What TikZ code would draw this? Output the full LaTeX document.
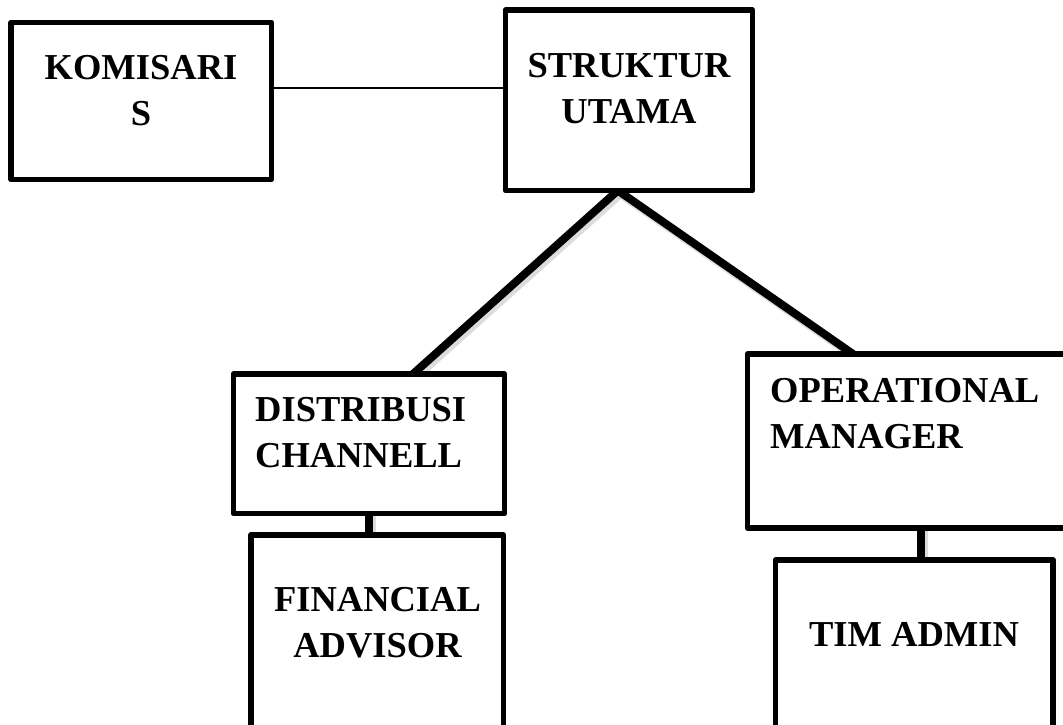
\documentclass[tikz,border=0pt]{standalone}
\usepackage{fontspec}
\setmainfont{Liberation Serif}
\usetikzlibrary{calc}
\pgfdeclarelayer{bg}
\pgfsetlayers{bg,main}
\begin{document}
\begin{tikzpicture}[x=1pt,y=-1pt,
  box/.style={draw, line width=5.5pt, line join=round, inner sep=0pt, outer sep=0pt, fill=white, anchor=north west},
  lbl/.style={inner sep=0pt, font=\fontsize{36.5}{46}\selectfont\bfseries},
  thinlink/.style={line width=2pt},
  thicklink/.style={line width=8pt, line cap=butt},
  vlink/.style={line width=7.5pt},
  shade/.style={line width=9pt, draw=black!30, opacity=0.45}
]
\clip (0,0) rectangle (1063,725);

% boxes
\node[box, minimum width=260.5pt, minimum height=157pt] (kom) at (11,22.5) {};
\node[box, minimum width=247pt, minimum height=180.5pt] (str) at (505.5,10) {};
\node[box, minimum width=271pt, minimum height=139.5pt] (dis) at (233.5,374) {};
\node[box, minimum width=252.5pt, minimum height=250pt] (fin) at (251,535) {};
\node[box, minimum width=340pt, minimum height=174pt] (ope) at (747.5,354) {};
\node[box, minimum width=277.5pt, minimum height=250pt] (tim) at (775.5,560) {};

% connectors
\coordinate (apex) at ($(str.south west)!0.455!(str.south east)$);
\coordinate (disin) at ([xshift=179.5pt]dis.north west);
\coordinate (opein) at ([xshift=105.5pt]ope.north west);
\coordinate (disout) at ([xshift=135.5pt]dis.south west);
\coordinate (opeout) at ([xshift=173.5pt]ope.south west);
\coordinate (k1) at ($(kom.north east)!0.417!(kom.south east)$);

\begin{pgfonlayer}{bg}
  \fill[white] (0,0) rectangle (1063,725);
  \draw[shade] ([shift={(2.5,3)}]apex) -- ([shift={(2.5,3)}]disin);
  \draw[shade] ([shift={(2.5,3)}]apex) -- ([shift={(2.5,3)}]opein);
  \draw[shade] ([shift={(2.5,0)}]disout) -- ([shift={(2.5,0)}]disout |- fin.north);
  \draw[shade] ([shift={(2.5,0)}]opeout) -- ([shift={(2.5,0)}]opeout |- tim.north);
  \draw[thinlink] (k1) -- (k1 -| str.west);
  \draw[thicklink, line join=miter] (disin) -- (apex) -- (opein);
  \draw[vlink] (disout) -- (disout |- fin.north);
  \draw[vlink] (opeout) -- (opeout |- tim.north);
\end{pgfonlayer}

% labels
\node[lbl, align=center, anchor=north] (komt) at (141,55) {KOMISARI\\S};
\node[lbl, align=center, anchor=north] (strt) at (629,53) {STRUKTUR\\UTAMA};
\node[lbl, align=left, anchor=north west] (dist) at (255,397) {DISTRIBUSI\\CHANNELL};
\node[lbl, align=left, anchor=north west] (opet) at (770,378) {OPERATIONAL\\MANAGER};
\node[lbl, align=center, anchor=north] (fint) at (377.5,587) {FINANCIAL\\ADVISOR};
\node[lbl, align=center, anchor=north] (timt) at (914,622) {TIM ADMIN};
\end{tikzpicture}
\end{document}
